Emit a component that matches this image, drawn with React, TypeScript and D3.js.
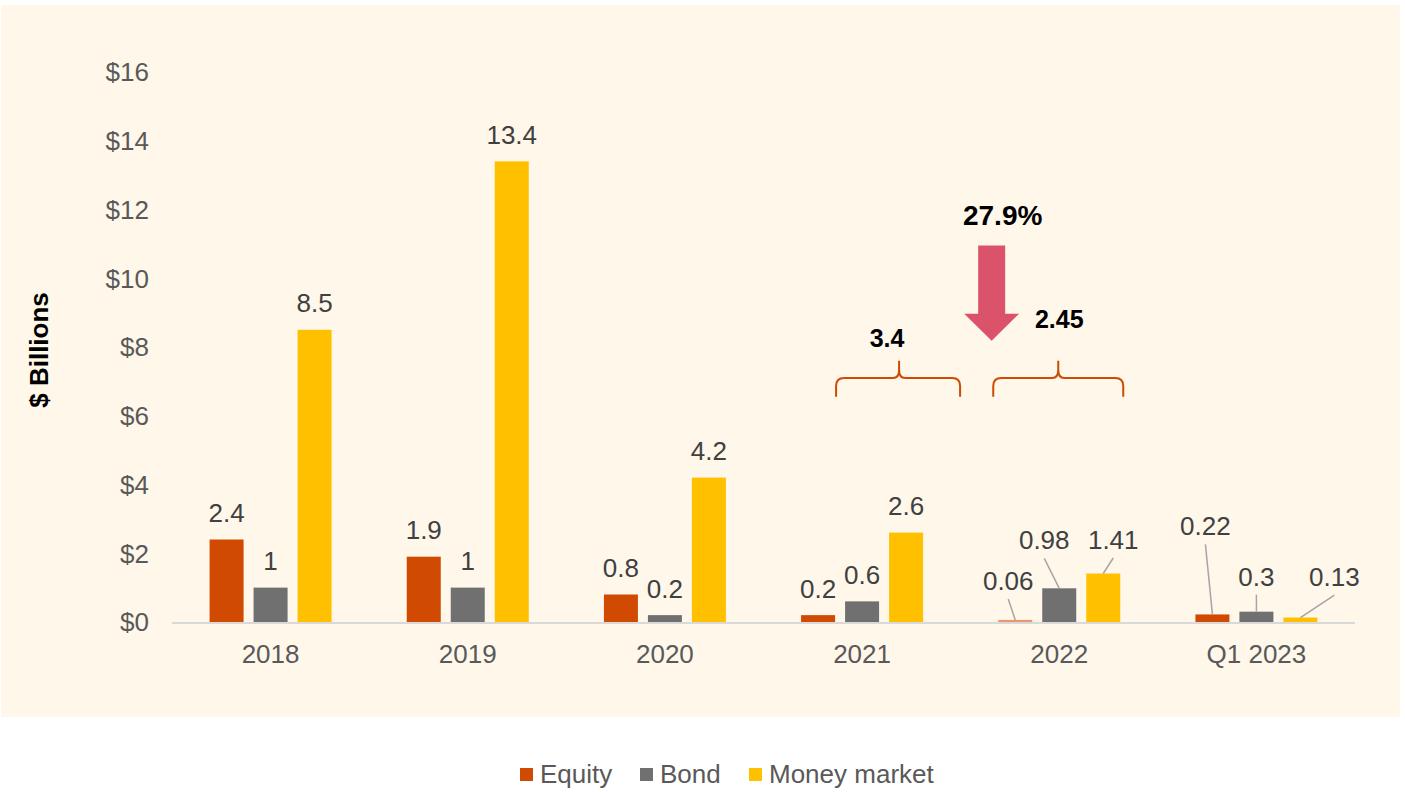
import React from "react";
import * as d3 from "d3";

const categories = ["2018", "2019", "2020", "2021", "2022", "Q1 2023"];
const seriesNames = ["Equity", "Bond", "Money market"];
const equity = [2.4, 1.9, 0.8, 0.2, 0.06, 0.22];
const bond = [1, 1, 0.2, 0.6, 0.98, 0.3];
const moneyMarket = [8.5, 13.4, 4.2, 2.6, 1.41, 0.13];
const yTicks = [0, 2, 4, 6, 8, 10, 12, 14, 16];
const totals = [{ from: "2021", label: "3.4" }, { from: "2022", label: "2.45" }];
const changeLabel = "27.9%";

const W = 1405;
const H = 792;
const FONT = "Arial, 'Liberation Sans', Helvetica, sans-serif";
const COLORS: Record<string, string> = { Equity: "#D04A02", Bond: "#707070", "Money market": "#FFC000" };
const FADED_EQUITY = "#E8976F";
const FS = 26;

// label placement (text baseline relative to bar-top centre); leader lines for some
const labelOffsets: Record<string, { dx: number; dy: number; leader?: boolean }> = {
  "2022|Equity": { dx: -7, dy: -30, leader: true },
  "2022|Bond": { dx: -15, dy: -39, leader: true },
  "2022|Money market": { dx: 10, dy: -24.5, leader: true },
  "Q1 2023|Equity": { dx: -7, dy: -79, leader: true },
  "Q1 2023|Bond": { dx: 0, dy: -26, leader: true },
  "Q1 2023|Money market": { dx: 34, dy: -31.5, leader: true },
};

export default function App() {
  const y = d3.scaleLinear().domain([0, 16]).range([622, 72]);
  const x = d3.scaleBand<string>().domain(categories).range([172, 1355]).padding(0);
  const inner = d3.scaleBand<string>().domain(seriesNames).range([-61, 61]).paddingInner(10 / 44).paddingOuter(0);
  const valuesFor = (s: string) => (s === "Equity" ? equity : s === "Bond" ? bond : moneyMarket);
  const cx = (c: string) => (x(c) as number) + x.bandwidth() / 2;

  const bars: any[] = [];
  categories.forEach((c, i) => {
    seriesNames.forEach((s) => {
      const v = valuesFor(s)[i];
      const bx = cx(c) + (inner(s) as number);
      const fill = c === "2022" && s === "Equity" ? FADED_EQUITY : COLORS[s];
      bars.push({ c, s, v, bx, fill, key: c + "|" + s });
    });
  });

  // annotation geometry
  const c21 = cx("2021");
  const c22 = cx("2022");
  const braceLineY = y(7.1);
  const braceEndY = y(6.55);
  const bracePeakY = y(7.6);
  const braces = [
    { x0: c21 - 26, x1: c21 + 98, peak: c21 + 37, label: totals[0].label, labelX: c21 + 25, labelY: y(8.0) },
    { x0: c22 - 66, x1: c22 + 64, peak: c22 - 1, label: totals[1].label, labelX: c22, labelY: y(8.55) },
  ];
  const bracePath = (b: any) => {
    const r = 8;
    return [
      `M${b.x0},${braceEndY} L${b.x0},${braceLineY + r} Q${b.x0},${braceLineY} ${b.x0 + r},${braceLineY} L${b.peak - 6},${braceLineY} Q${b.peak},${braceLineY} ${b.peak},${braceLineY - 8} L${b.peak},${bracePeakY}`,
      `M${b.peak},${braceLineY - 8} Q${b.peak},${braceLineY} ${b.peak + 6},${braceLineY} L${b.x1 - r},${braceLineY} Q${b.x1},${braceLineY} ${b.x1},${braceLineY + r} L${b.x1},${braceEndY}`,
    ].join(" ");
  };
  const ax = (x(categories[4]) as number) + 31;
  const arrowTop = y(10.95);
  const shaftBottom = y(8.97);
  const arrowTip = y(8.18);
  const arrowPath = `M${ax - 13.5},${arrowTop} L${ax + 13.5},${arrowTop} L${ax + 13.5},${shaftBottom} L${ax + 27.5},${shaftBottom} L${ax},${arrowTip} L${ax - 27.5},${shaftBottom} L${ax - 13.5},${shaftBottom} Z`;

  const legendItems = [
    { s: "Equity", x: 520 },
    { s: "Bond", x: 640 },
    { s: "Money market", x: 749 },
  ];

  return (
    <svg width={W} height={H} style={{ position: "absolute", left: 0, top: 0, fontFamily: FONT }}>
      <rect x={0} y={0} width={W} height={H} fill="#ffffff" />
      <rect x={1} y={5} width={1399} height={712} fill="#FEF7EA" />

      {/* y tick labels */}
      {yTicks.map((t) => (
        <text key={t} x={149} y={y(t)} dy="0.36em" textAnchor="end" fontSize={FS} fill="#595959">
          {"$" + d3.format("d")(t)}
        </text>
      ))}

      {/* y axis title */}
      <text transform={`translate(48,350) rotate(-90)`} textAnchor="middle" fontSize={26} fontWeight="bold" fill="#000">
        $ Billions
      </text>

      {/* bars */}
      {bars.map((b) => (
        <rect key={b.key} x={b.bx} y={y(b.v)} width={inner.bandwidth()} height={y(0) - y(b.v)} fill={b.fill} />
      ))}

      {/* baseline */}
      <line x1={172} x2={1355} y1={y(0) + 1} y2={y(0) + 1} stroke="#D9D9D9" strokeWidth={2} />

      {/* x labels */}
      {categories.map((c) => (
        <text key={c} x={cx(c)} y={663} textAnchor="middle" fontSize={FS} fill="#595959">
          {c}
        </text>
      ))}

      {/* data labels */}
      {bars.map((b) => {
        const off = labelOffsets[b.key] || { dx: 0, dy: -17.5 };
        const barCx = b.bx + inner.bandwidth() / 2;
        const top = y(b.v);
        const tx = barCx + off.dx;
        const ty = top + off.dy;
        return (
          <g key={"l" + b.key}>
            {off.leader && (
              <line x1={tx} y1={ty + 9} x2={barCx} y2={top} stroke="#A6A6A6" strokeWidth={1.5} />
            )}
            <text x={tx} y={ty} textAnchor="middle" fontSize={FS} fill="#404040">
              {String(b.v)}
            </text>
          </g>
        );
      })}

      {/* braces */}
      {braces.map((b, i) => (
        <g key={"br" + i}>
          <path d={bracePath(b)} fill="none" stroke="#D04A02" strokeWidth={2} />
          <text x={b.labelX} y={b.labelY} textAnchor="middle" fontSize={25} fontWeight="bold" fill="#000">
            {b.label}
          </text>
        </g>
      ))}

      {/* arrow */}
      <path d={arrowPath} fill="#DB536A" />
      <text x={ax + 11} y={225} textAnchor="middle" fontSize={28} fontWeight="bold" fill="#000">
        {changeLabel}
      </text>

      {/* legend */}
      {legendItems.map((l) => (
        <g key={l.s}>
          <rect x={l.x} y={768} width={13} height={13} fill={COLORS[l.s]} />
          <text x={l.x + 20} y={783} fontSize={FS} fill="#595959">
            {l.s}
          </text>
        </g>
      ))}
    </svg>
  );
}
